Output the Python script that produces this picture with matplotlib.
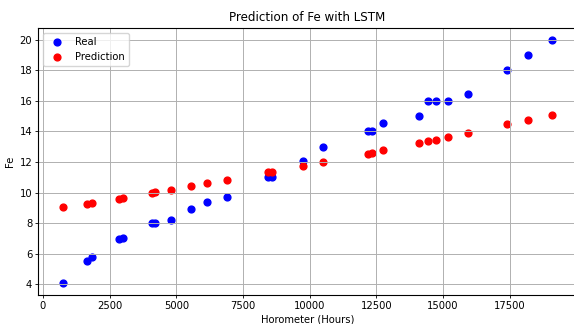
import numpy as np
import matplotlib
matplotlib.use('Agg')
import matplotlib.pyplot as plt

# Horas del horómetro y valores de Fe
horas = [750, 1670, 1830, 2860, 3020, 4080, 4220, 4820, 5570, 6170, 6910,
         8430, 8580, 9760, 10510, 12170, 12320, 12760, 14100, 14420, 14720,
         15180, 15930, 17400, 18170, 19080]
fe_real = [4.1, 5.5, 5.8, 6.95, 7.05, 8.0, 8.0, 8.2, 8.9, 9.4, 9.7,
           11.0, 11.0, 12.05, 13.0, 14.0, 14.0, 14.55, 15.0, 16.0, 16.0,
           16.0, 16.45, 18.0, 19.0, 20.0]
fe_pred = [9.03, 9.28, 9.35, 9.6, 9.65, 9.97, 10.02, 10.2, 10.42, 10.6, 10.83,
           11.32, 11.37, 11.75, 12.0, 12.55, 12.6, 12.78, 13.25, 13.38, 13.47,
           13.66, 13.93, 14.47, 14.73, 15.1]

fig = plt.figure(figsize=(5.74, 3.24), dpi=100)
ax = fig.add_axes([0.067, 0.0895, 0.937, 0.8256])
ax.scatter(horas, fe_real, color='blue', s=24, label='Real')
ax.scatter(horas, fe_pred, color='red', s=24, label='Prediction')

ax.set_title('Prediction of Fe with LSTM', fontsize=8.6, pad=5)
ax.set_xlabel('Horometer (Hours)', fontsize=7.2, labelpad=2)
ax.set_ylabel('Fe', fontsize=7.2, labelpad=3)
ax.tick_params(labelsize=7.2, length=2.5, width=0.6, pad=2)
ax.legend(fontsize=7.2, loc='upper left')
ax.grid(True, linewidth=0.7)
fig.savefig('out.png', dpi=100)
